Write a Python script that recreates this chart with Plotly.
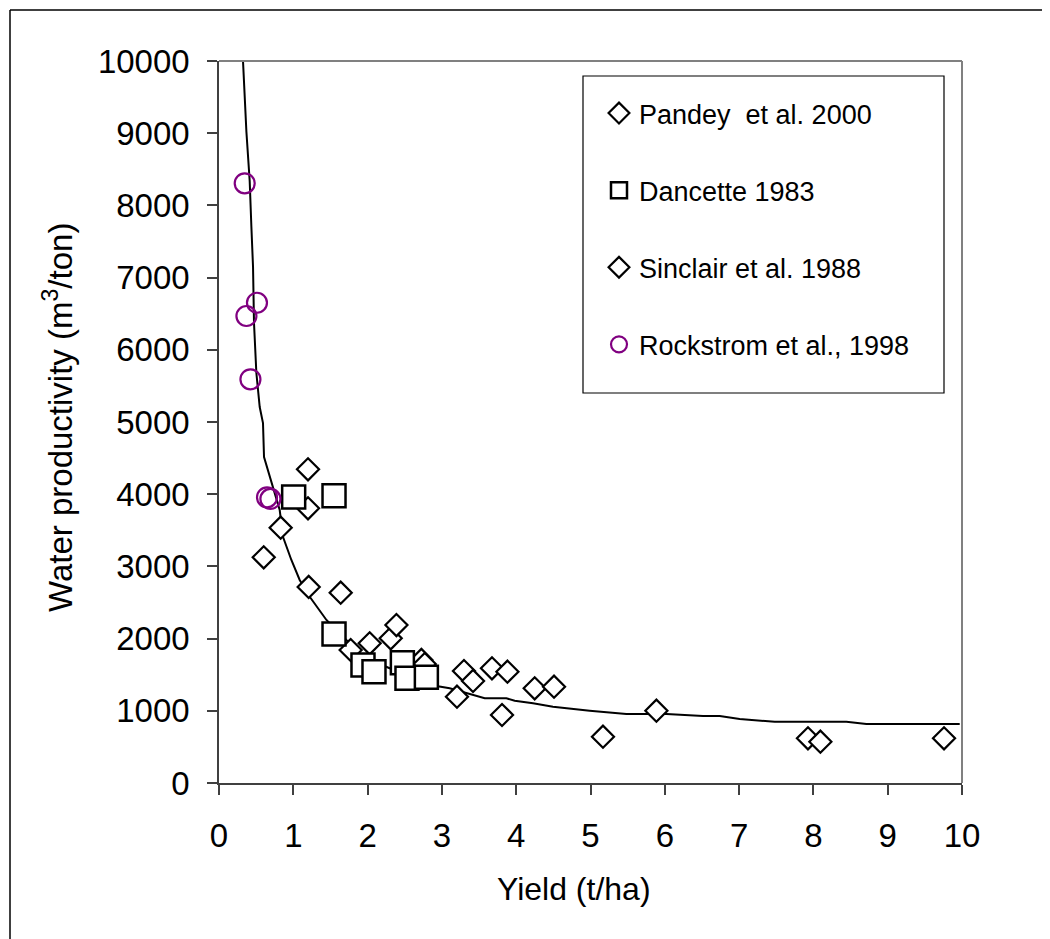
import plotly.graph_objects as go

# ---------------- data ----------------
pandey_x = [3.203, 3.297, 3.419, 3.674, 3.882, 3.809, 4.249, 4.509, 5.168, 5.887, 7.927, 8.094, 9.758]
pandey_y = [1195, 1551, 1413, 1589, 1542, 942, 1312, 1334, 641, 1001, 619, 572, 619]

sinclair_x = [0.602, 0.830, 1.198, 1.198, 1.207, 1.638, 1.772, 2.028, 2.311, 2.388, 2.724, 2.769]
sinclair_y = [3126, 3536, 4345, 3805, 2715, 2636, 1842, 1935, 2004, 2188, 1704, 1648]

dancette_x = [1.005, 1.548, 1.548, 1.938, 2.086, 2.468, 2.530, 2.791]
dancette_y = [3961, 3979, 2064, 1634, 1542, 1666, 1450, 1464]

rock_x = [0.346, 0.511, 0.369, 0.423, 0.646, 0.692]
rock_y = [8306, 6652, 6468, 5591, 3957, 3934]

fit_x = [0.310, 0.323, 0.369, 0.413, 0.436, 0.458, 0.471, 0.503, 0.548, 0.592, 0.606,
         0.705, 0.817, 0.861, 0.974, 1.086, 1.221, 1.446, 1.715, 1.938, 2.297, 2.926,
         3.105, 3.330, 3.576, 3.868, 3.980, 4.226, 4.495, 4.989, 5.483, 6.022, 6.514,
         6.739, 7.008, 7.479, 8.444, 8.713, 9.969]
fit_y = [10180, 10000, 9017, 8338, 7701, 7147, 6371, 5679, 5208, 4986, 4515,
         4155, 3781, 3411, 3089, 2812, 2580, 2258, 1981, 1749, 1589, 1343,
         1312, 1242, 1173, 1173, 1140, 1104, 1057, 1001, 956, 956, 928,
         928, 886, 849, 849, 817, 817]

x_ticks = list(range(0, 11))
y_ticks = list(range(0, 10001, 1000))

legend_names = ["Pandey  et al. 2000", "Dancette 1983", "Sinclair et al. 1988", "Rockstrom et al., 1998"]
x_title = "Yield (t/ha)"
y_title = "Water productivity (m<sup>3</sup>/ton)"

FONT = "Liberation Sans, Arial, sans-serif"

fig = go.Figure()

fig.add_trace(go.Scatter(x=fit_x, y=fit_y, mode="lines",
                         line=dict(color="black", width=2), showlegend=False,
                         hoverinfo="skip"))

fig.add_trace(go.Scatter(x=sinclair_x, y=sinclair_y, mode="markers", name=legend_names[2],
                         legendrank=3, legendgroup="c",
                         marker=dict(symbol="diamond", size=17, color="white",
                                     line=dict(color="black", width=2.2))))
fig.add_trace(go.Scatter(x=pandey_x, y=pandey_y, mode="markers", name=legend_names[0],
                         legendrank=1, legendgroup="a",
                         marker=dict(symbol="diamond", size=17, color="white",
                                     line=dict(color="black", width=2.2))))
fig.add_trace(go.Scatter(x=dancette_x, y=dancette_y, mode="markers", name=legend_names[1],
                         legendrank=2, legendgroup="b",
                         marker=dict(symbol="square", size=23, color="white",
                                     line=dict(color="black", width=2.5))))
fig.add_trace(go.Scatter(x=rock_x, y=rock_y, mode="markers", name=legend_names[3],
                         legendrank=4, legendgroup="d",
                         marker=dict(symbol="circle-open", size=20, color="#800080",
                                     line=dict(color="#800080", width=2.2))))

axis_common = dict(showline=True, linecolor="#404040", linewidth=1.5,
                   ticks="outside", ticklen=10, tickwidth=1.5, tickcolor="#404040",
                   showgrid=False, zeroline=False,
                   tickfont=dict(family=FONT, size=33, color="black"))

fig.update_xaxes(range=[0, 10], tickvals=x_ticks, ticktext=[str(v) for v in x_ticks],
                 ticklabelstandoff=13, **axis_common)
fig.update_yaxes(range=[0, 10000], tickvals=y_ticks, ticktext=[str(v) for v in y_ticks],
                 ticklabelstandoff=11, **axis_common)

# page is rendered with an 8px body margin, so work in page pixels and subtract it
OFF = 8
W, H = 1050 - OFF, 939 - OFF
L, T = 219 - OFF, 61 - OFF
R, B = W - (962 - OFF), H - (783 - OFF)
pw, ph = W - L - R, H - T - B

def px(xp):
    return (xp - OFF - L) / pw

def py(yp):
    return (H - B - (yp - OFF)) / ph

shapes = [
    # gray top / right frame of the plot area
    dict(type="line", xref="paper", yref="paper", x0=0, x1=1, y0=1, y1=1,
         line=dict(color="#808080", width=2)),
    dict(type="line", xref="paper", yref="paper", x0=1, x1=1, y0=0, y1=1,
         line=dict(color="#808080", width=2)),
    # outer chart frame (left and top)
    dict(type="line", xref="paper", yref="paper", x0=px(10), x1=px(10), y0=py(10), y1=py(945),
         line=dict(color="black", width=1.5)),
    dict(type="line", xref="paper", yref="paper", x0=px(10), x1=px(1055), y0=py(10), y1=py(10),
         line=dict(color="black", width=1.5)),
    # legend box
    dict(type="rect", xref="paper", yref="paper", x0=px(583), x1=px(944), y0=py(76), y1=py(393),
         line=dict(color="black", width=1.2), fillcolor="white", layer="above"),
]

annotations = [
    dict(text=x_title, xref="paper", yref="paper", x=px(574), y=py(889),
         xanchor="center", yanchor="middle", showarrow=False,
         font=dict(family=FONT, size=32, color="black")),
    dict(text=y_title, xref="paper", yref="paper", x=px(58), y=py(418),
         xanchor="center", yanchor="middle", showarrow=False, textangle=-90,
         font=dict(family=FONT, size=33, color="black")),
]

fig.update_layout(
    width=W, height=H,
    margin=dict(l=L, r=R, t=T, b=B, pad=0),
    paper_bgcolor="white", plot_bgcolor="white",
    font=dict(family=FONT, color="black"),
    shapes=shapes, annotations=annotations,
    legend=dict(x=px(599), y=py(89), xanchor="left", yanchor="top",
                bgcolor="rgba(0,0,0,0)", borderwidth=0,
                font=dict(family=FONT, size=27, color="black"),
                tracegroupgap=39, itemwidth=30,
                traceorder="grouped"),
    showlegend=True,
)

fig.write_html("out.html")
